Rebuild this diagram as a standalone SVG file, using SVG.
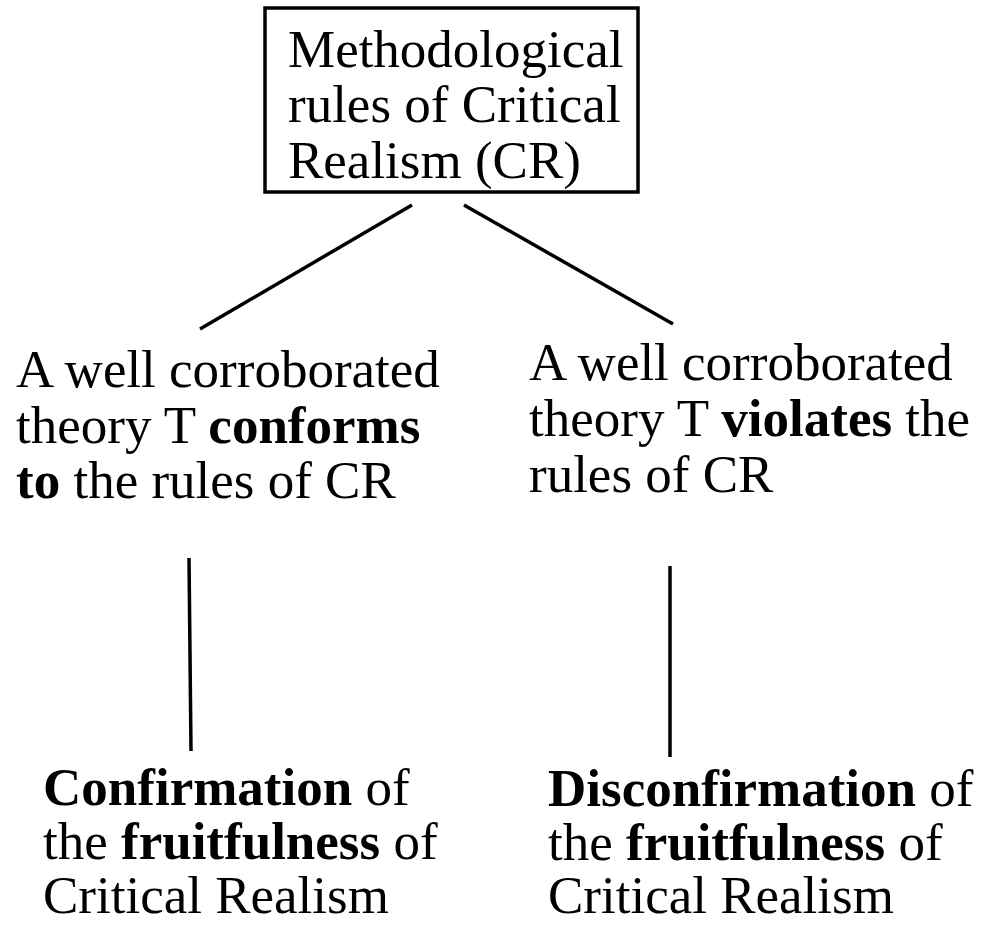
<svg xmlns="http://www.w3.org/2000/svg" width="982" height="925" viewBox="0 0 982 925">
<style>
text { font-family: "Liberation Serif", "Times New Roman", serif; font-size: 53px; fill: #000; }
.b { font-weight: bold; }
.conn line { stroke: #000; stroke-width: 3.5; }
</style>
<rect width="982" height="925" fill="#fff"/>
<g id="root">
<rect x="265" y="8" width="373" height="184" fill="none" stroke="#000" stroke-width="3.5"/>
<text x="288" y="67">Methodological</text>
<text x="288" y="122">rules of Critical</text>
<text x="288" y="178">Realism (CR)</text>
</g>
<g id="conforms">
<text x="16" y="387">A well corroborated</text>
<text x="16" y="443">theory T <tspan class="b">conforms</tspan></text>
<text x="16" y="498"><tspan class="b">to</tspan> the rules of CR</text>
</g>
<g id="violates">
<text x="529" y="380">A well corroborated</text>
<text x="529" y="436">theory T <tspan class="b">violates</tspan> the</text>
<text x="529" y="492">rules of CR</text>
</g>
<g id="confirmation">
<text x="43" y="805"><tspan class="b">Confirmation</tspan> of</text>
<text x="43" y="859">the <tspan class="b">fruitfulness</tspan> of</text>
<text x="43" y="913">Critical Realism</text>
</g>
<g id="disconfirmation">
<text x="548" y="806"><tspan class="b">Disconfirmation</tspan> of</text>
<text x="548" y="860">the <tspan class="b">fruitfulness</tspan> of</text>
<text x="548" y="913">Critical Realism</text>
</g>
<g class="conn" id="connectors">
<line x1="412" y1="205" x2="200" y2="329"/>
<line x1="464" y1="205" x2="673" y2="324"/>
<line x1="189" y1="558" x2="191" y2="751"/>
<line x1="670" y1="566" x2="670" y2="757"/>
</g>
</svg>
